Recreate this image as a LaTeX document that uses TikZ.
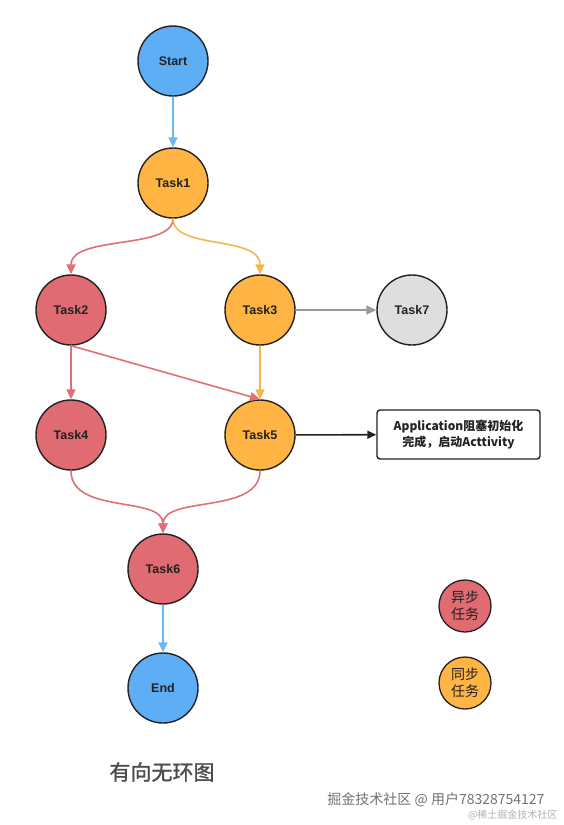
\documentclass[tikz,border=0pt]{standalone}
\usepackage{fontspec}
\setmainfont{Liberation Sans}
\newfontfamily\cjk{Noto Sans CJK SC}
\newfontfamily\cjkmed[FakeBold=1.2]{Noto Sans CJK SC}
\usetikzlibrary{arrows.meta}
\definecolor{cblue}{HTML}{5EAEF5}
\definecolor{corange}{HTML}{FFB443}
\definecolor{cred}{HTML}{E06B72}
\definecolor{cgray}{HTML}{DEDEDE}
\definecolor{eblue}{HTML}{6CB6F2}
\definecolor{ered}{HTML}{E07075}
\definecolor{eorange}{HTML}{F7B64A}
\definecolor{egray}{HTML}{9A9A9A}
\definecolor{ink}{HTML}{222222}
\tikzset{
  task/.style={circle, draw=ink, line width=1.4pt, minimum size=70pt, inner sep=0pt,
    font=\fontsize{12.5}{14}\selectfont\bfseries, text=ink},
  legend/.style={circle, draw=ink, line width=1.3pt, minimum size=52pt, inner sep=0pt,
    font=\cjk\fontsize{14}{17}\selectfont, text=ink, align=center},
  edge/.style={line width=1.6pt, -{Triangle[length=10pt,width=9pt]}},
}
\begin{document}
\begin{tikzpicture}[x=1pt,y=-1pt]
\useasboundingbox[fill=white] (0,0) rectangle (564,825);
\node[task, fill=cblue] (start) at (173,61) {Start};
\node[task, fill=corange] (t1) at (173,183) {Task1};
\node[task, fill=cred] (t2) at (71,310) {Task2};
\node[task, fill=corange] (t3) at (260,310) {Task3};
\node[task, fill=cgray] (t7) at (412,310) {Task7};
\node[task, fill=cred] (t4) at (71,435) {Task4};
\node[task, fill=corange] (t5) at (260,435) {Task5};
\node[task, fill=cred] (t6) at (163,569) {Task6};
\node[task, fill=cblue] (end) at (163,688) {End};
\node[draw=ink, line width=1.4pt, rounded corners=3pt, minimum width=163pt, minimum height=49pt,
  align=center, font=\cjk\fontsize{12}{16}\selectfont\bfseries, text=ink] (box) at (458.5,434.5)
  {Application阻塞初始化\\完成，启动Acttivity};
\node[legend, fill=cred] (ly) at (465,606) {异步\\任务};
\node[legend, fill=corange] (lt) at (465,683) {同步\\任务};
\node[font=\cjkmed\fontsize{21}{24}\selectfont, text=black!70] (title) at (162,772) {有向无环图};
\node[font=\cjk\fontsize{14}{16}\selectfont, text=black!55, anchor=east] (wm1) at (548,800) {掘金技术社区 @ 用户78328754127};
\node[font=\cjk\fontsize{10}{12}\selectfont, text=black!30, anchor=east] (wm2) at (561,815) {@稀土掘金技术社区};

\draw[edge, eblue] (start) -- (t1);
\draw[edge, ered] (t1.south) .. controls (173,250) and (71,235) .. (t2.north);
\draw[edge, eorange] (t1.south) .. controls (173,250) and (260,235) .. (t3.north);
\draw[edge, egray] (t3) -- (t7);
\draw[edge, ered] (t2) -- (t4);
\draw[edge, ered] (t2.south) -- (t5.north);
\draw[edge, eorange] (t3) -- (t5);
\draw[edge, ink, -{Triangle[length=9pt,width=8pt]}] (t5) -- (box);
\draw[edge, ered] (t4.south) .. controls (71,515) and (163,495) .. (t6.north);
\draw[edge, ered] (t5.south) .. controls (260,515) and (163,495) .. (t6.north);
\draw[edge, eblue] (t6) -- (end);
\end{tikzpicture}
\end{document}
